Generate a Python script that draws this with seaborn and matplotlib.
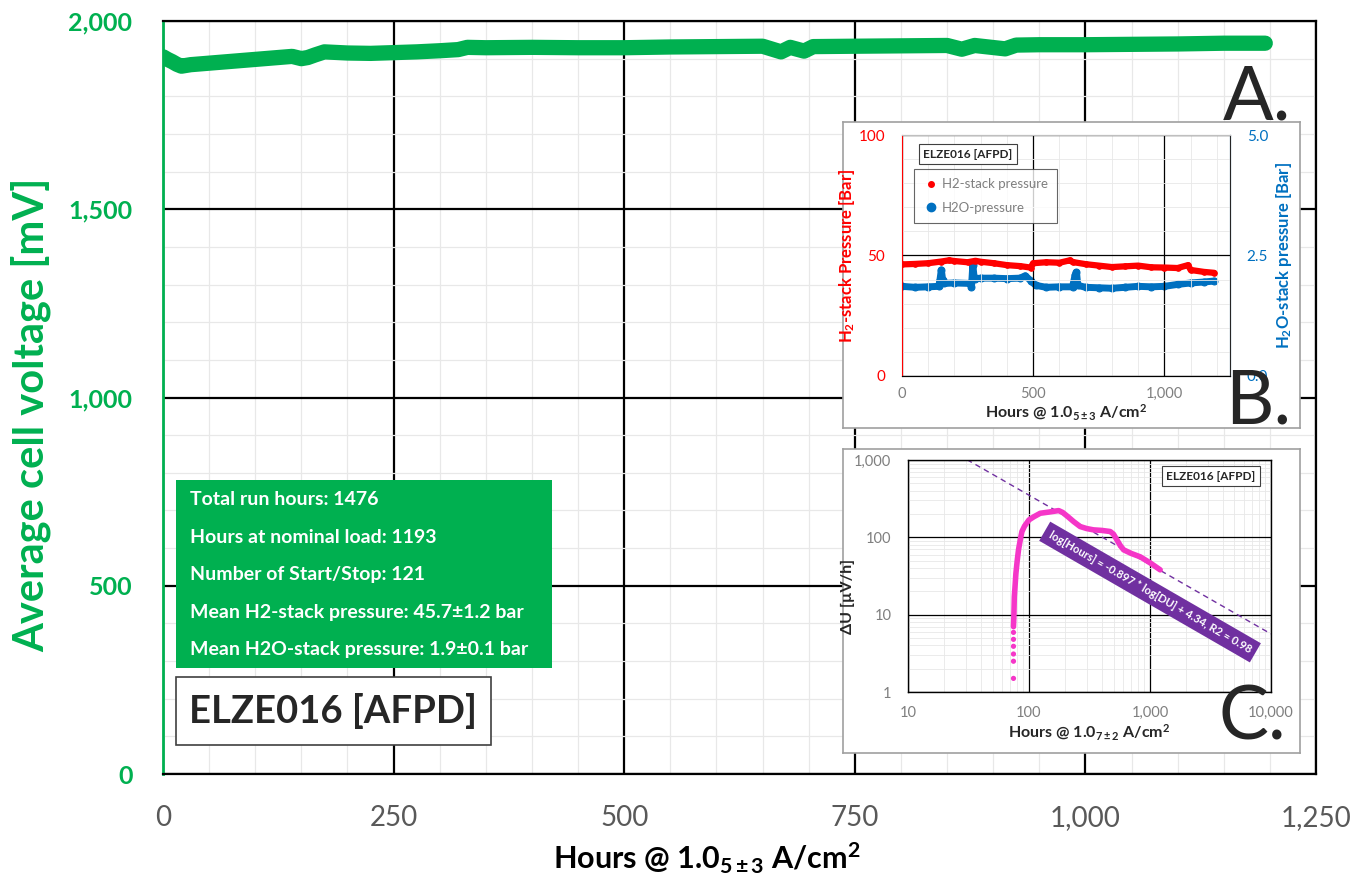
import matplotlib
matplotlib.use("Agg")
import numpy as np
import matplotlib.pyplot as plt
import seaborn as sns
from matplotlib.ticker import FuncFormatter, MultipleLocator, LogLocator, NullFormatter, FixedLocator
from matplotlib.patches import Rectangle
from matplotlib.lines import Line2D

# ---- main panel A: average cell voltage ----
hours_v = [0, 5, 10, 15, 20, 25, 30, 40, 50, 75, 100, 125, 140, 150, 157, 165, 175,
           200, 225, 250, 275, 300, 320, 330, 350, 400, 450, 500, 550, 600, 650, 670,
           680, 695, 705, 750, 800, 850, 866, 880, 913, 925, 950, 1000, 1050, 1100,
           1150, 1195]
voltage_mv = [1905, 1898, 1892, 1885, 1880, 1882, 1884, 1886, 1888, 1893, 1898, 1903,
              1906, 1900, 1903, 1910, 1918, 1915, 1914, 1916, 1918, 1921, 1924, 1930,
              1929, 1930, 1929, 1929, 1931, 1932, 1933, 1918, 1930, 1920, 1932, 1933,
              1934, 1935, 1925, 1935, 1926, 1936, 1937, 1937, 1938, 1939, 1941, 1941]
stats_lines = ["Total run hours: 1476",
               "Hours at nominal load: 1193",
               "Number of Start/Stop: 121",
               "Mean H2-stack pressure: 45.7\u00b11.2 bar",
               "Mean H2O-stack pressure: 1.9\u00b10.1 bar"]
stack_name = "ELZE016 [AFPD]"

# ---- inset B: pressures ----
h2_hours = [0, 50, 100, 150, 180, 200, 250, 280, 300, 350, 400, 450, 490, 500, 550,
            600, 640, 650, 700, 750, 800, 850, 900, 950, 1000, 1050, 1090, 1100, 1150, 1190]
h2_bar = [46.3, 46.5, 46.8, 47.5, 48.0, 47.7, 47.2, 47.8, 47.4, 46.8, 46.0, 45.6, 45.0,
          46.8, 47.2, 47.0, 48.0, 47.3, 46.4, 45.8, 45.2, 45.5, 45.8, 45.1, 45.0, 44.8,
          46.0, 44.0, 43.2, 42.8]
h2o_hours = [0, 50, 100, 140, 145, 150, 155, 160, 200, 260, 265, 270, 275, 280, 300, 350,
             400, 450, 470, 490, 510, 550, 600, 650, 660, 665, 670, 700, 750, 800, 850,
             900, 950, 1000, 1050, 1100, 1150, 1190]
h2o_bar = [1.86, 1.84, 1.85, 1.86, 2.0, 2.2, 2.0, 1.92, 1.93, 1.92, 1.85, 2.3, 2.05, 2.02,
           2.03, 2.03, 2.02, 2.03, 2.08, 1.98, 1.88, 1.84, 1.85, 1.85, 2.1, 2.15, 1.88,
           1.84, 1.83, 1.82, 1.84, 1.86, 1.85, 1.86, 1.90, 1.93, 1.95, 1.97]

# ---- inset C: degradation rate ----
du_start_hours = [74.5, 74.5, 74.5, 74.5, 74.5, 74.5]
du_start = [1.5, 2.5, 3.1, 3.9, 4.8, 5.9]
du_hours = [74.5, 75, 75.7, 77, 78, 80, 82, 85, 87.5, 92, 100, 110, 124, 145, 176, 190,
            210, 234, 265, 300, 342, 400, 470, 500, 533, 570, 606, 700, 832, 1000, 1216]
du_uvh = [7.0, 9, 17, 25, 34, 50, 69, 95, 119, 140, 168, 185, 205, 212, 222, 210, 185,
          160, 138, 130, 125, 123, 119, 110, 93, 78, 69, 62, 56, 47, 38]
fit_slope = -0.897
fit_intercept = 4.34
fit_r2 = 0.98
fit_hours = [10, 10000]

GREEN = "#00B050"
RED = "#FF0000"
BLUE = "#0070C0"
PINK = "#F536C8"
PURPLE = "#7030A0"
GRAY = "#595959"
MINOR = "#e8e8e8"

sns.set_style("white")
plt.rcParams['font.family'] = ['Lato', 'DejaVu Sans']
plt.rcParams['mathtext.fontset'] = 'custom'
plt.rcParams['mathtext.rm'] = 'Lato'
plt.rcParams['mathtext.bf'] = 'Lato:bold'
plt.rcParams['mathtext.it'] = 'Lato:italic'

comma = FuncFormatter(lambda v, p: f"{v:,.0f}")

fig = plt.figure(figsize=(13.67, 8.83), dpi=100)

# ==== Panel A ====
ax = fig.add_axes([0.11924, 0.12344, 0.84345, 0.85278])
sns.lineplot(x=hours_v, y=voltage_mv, ax=ax, color=GREEN, lw=11,
             solid_capstyle='round', solid_joinstyle='round', zorder=3)
ax.set_xlim(0, 1250)
ax.set_ylim(0, 2000)
ax.xaxis.set_major_locator(MultipleLocator(250))
ax.xaxis.set_minor_locator(MultipleLocator(50))
ax.yaxis.set_major_locator(MultipleLocator(500))
ax.yaxis.set_minor_locator(MultipleLocator(100))
ax.xaxis.set_major_formatter(comma)
ax.yaxis.set_major_formatter(comma)
ax.grid(which='major', color='black', lw=1.6, zorder=1)
ax.grid(which='minor', color=MINOR, lw=0.9, zorder=0)
ax.set_axisbelow(True)
ax.tick_params(which='both', length=0)
ax.tick_params(axis='x', labelsize=20, labelcolor=GRAY, pad=22)
ax.tick_params(axis='y', labelsize=18, labelcolor=GREEN, pad=22)
for lab in ax.get_yticklabels():
    lab.set_fontweight('bold')
for side in ['top', 'right', 'bottom']:
    ax.spines[side].set_color('black')
    ax.spines[side].set_linewidth(1.6)
ax.spines['left'].set_color(GREEN)
ax.spines['left'].set_linewidth(2)
ax.set_xlabel(r"Hours @ 1.0$_{\mathbf{5\pm3}}$ A/cm$^{\mathbf{2}}$",
              fontsize=22, fontweight='bold', color='black')
ax.xaxis.set_label_coords((707 - 163) / 1153, -0.088)
fig.text(31 / 1367, 1 - 415 / 883, "Average cell voltage [mV]", rotation=90,
         ha='center', va='center', fontsize=30, fontweight='bold', color=GREEN)

# stats box
ax.add_patch(Rectangle((0.0113, 0.1408), 0.3261, 0.2497, transform=ax.transAxes,
                       facecolor=GREEN, edgecolor='none', zorder=5))
for yy, line in zip([0.3639, 0.3147, 0.2643, 0.2151, 0.1647], stats_lines):
    ax.text(0.0234, yy, line, transform=ax.transAxes, color='white', fontsize=14,
            fontweight='bold', ha='left', va='center', zorder=6)
ax.add_patch(Rectangle((0.0113, 0.0385), 0.2732, 0.0903, transform=ax.transAxes,
                       facecolor='white', edgecolor='#404040', lw=1.2, zorder=5))
ax.text(0.1477, 0.0837, stack_name, transform=ax.transAxes, fontsize=27.5,
        fontweight='bold', ha='center', va='center', zorder=6)

# frames behind insets
for rect in ([0.6167, 0.5153, 0.3343, 0.3466], [0.6167, 0.1472, 0.3343, 0.3443]):
    fr = fig.add_axes(rect)
    fr.set_xticks([])
    fr.set_yticks([])
    fr.set_facecolor('white')
    for s in fr.spines.values():
        s.set_color('#a0a0a0')
        s.set_linewidth(1.2)

# ==== Panel B ====
axb = fig.add_axes([0.6598, 0.5742, 0.2400, 0.2729])
axb2 = axb.twinx()
sns.lineplot(x=h2_hours, y=h2_bar, ax=axb, color=RED, lw=4.5, marker='o', ms=4,
             mec=RED, zorder=3)
sns.lineplot(x=h2o_hours, y=h2o_bar, ax=axb2, color=BLUE, lw=5, marker='o', ms=5,
             mec=BLUE, zorder=3)
axb.set_xlim(0, 1250)
axb.set_ylim(0, 100)
axb2.set_ylim(0, 5)
axb.xaxis.set_major_locator(FixedLocator([0, 500, 1000]))
axb.xaxis.set_minor_locator(MultipleLocator(100))
axb.yaxis.set_major_locator(FixedLocator([0, 50, 100]))
axb.yaxis.set_minor_locator(MultipleLocator(10))
axb2.yaxis.set_major_locator(FixedLocator([0, 2.5, 5]))
axb.xaxis.set_major_formatter(comma)
axb2.yaxis.set_major_formatter(FuncFormatter(lambda v, p: f"{v:.1f}"))
axb.grid(which='major', color='black', lw=0.9)
axb.grid(which='minor', color=MINOR, lw=0.6)
axb.set_axisbelow(True)
axb2.grid(False)
axb.tick_params(which='both', length=0)
axb2.tick_params(which='both', length=0)
axb.tick_params(axis='x', labelsize=10.5, labelcolor='#7f7f7f', pad=8)
axb.tick_params(axis='y', labelsize=11, labelcolor=RED, pad=12)
axb2.tick_params(axis='y', labelsize=11, labelcolor=BLUE, pad=12)
axb.spines['left'].set_color(RED)
axb.spines['bottom'].set_color('black')
axb.spines['top'].set_color('#bfbfbf')
axb2.spines['right'].set_color(BLUE)
axb2.spines['left'].set_visible(False)
axb2.spines['top'].set_color('#bfbfbf')
axb.set_xlabel(r"Hours @ 1.0$_{\mathbf{5\pm3}}$ A/cm$^{\mathbf{2}}$", fontsize=11.5,
               fontweight='bold', labelpad=1)
axb.set_ylabel(r"H$_{\mathbf{2}}$-stack Pressure [Bar]", fontsize=12, fontweight='bold',
               color=RED, labelpad=1)
axb2.set_ylabel(r"H$_{\mathbf{2}}$O-stack pressure [Bar]", fontsize=12, fontweight='bold',
                color=BLUE, labelpad=4)
axb.text(0.201, 0.921, stack_name, transform=axb.transAxes, fontsize=8.5,
         fontweight='bold', ha='center', va='center', zorder=6,
         bbox=dict(boxstyle='square,pad=0.35', fc='white', ec='#404040', lw=0.8))
handles = [Line2D([], [], color=RED, marker='o', ls='none', ms=4),
           Line2D([], [], color=BLUE, marker='o', ls='none', ms=6)]
leg = axb.legend(handles, ["H2-stack pressure", "H2O-pressure"], loc='upper left',
                 bbox_to_anchor=(0.0366, 0.859), borderaxespad=0, fontsize=9.5,
                 frameon=True, fancybox=False, edgecolor='#404040', labelcolor='#7f7f7f',
                 handletextpad=0.2, borderpad=0.7, labelspacing=0.9, handlelength=1.2)
leg.get_frame().set_linewidth(0.8)
leg.set_zorder(7)
axb2.set_zorder(axb.get_zorder() + 0.1)
axb.set_zorder(axb2.get_zorder() + 0.1)
axb.patch.set_visible(False)
axb2.patch.set_visible(False)

# ==== Panel C ====
axc = fig.add_axes([0.6642, 0.2163, 0.2655, 0.2627])
axc.set_xscale('log')
axc.set_yscale('log')
fit_du = [10 ** (fit_intercept + fit_slope * np.log10(h)) for h in fit_hours]
axc.plot(fit_hours, fit_du, color=PURPLE, lw=1, ls=(0, (4, 3)), zorder=2)
sns.scatterplot(x=du_start_hours, y=du_start, ax=axc, color=PINK, s=14,
                edgecolor='none', zorder=3)
sns.lineplot(x=du_hours, y=du_uvh, ax=axc, color=PINK, lw=4, sort=False,
             estimator=None, zorder=3)
axc.set_xlim(10, 10000)
axc.set_ylim(1, 1000)
axc.xaxis.set_major_locator(LogLocator(base=10))
axc.yaxis.set_major_locator(LogLocator(base=10))
axc.xaxis.set_minor_locator(LogLocator(base=10, subs=np.arange(2, 10)))
axc.yaxis.set_minor_locator(LogLocator(base=10, subs=np.arange(2, 10)))
axc.xaxis.set_minor_formatter(NullFormatter())
axc.yaxis.set_minor_formatter(NullFormatter())
axc.xaxis.set_major_formatter(comma)
axc.yaxis.set_major_formatter(comma)
axc.grid(which='major', color='black', lw=0.9)
axc.grid(which='minor', color=MINOR, lw=0.6)
axc.set_axisbelow(True)
axc.tick_params(which='both', length=0)
axc.tick_params(axis='x', labelsize=10.5, labelcolor='#7f7f7f', pad=10)
axc.tick_params(axis='y', labelsize=10.5, labelcolor='#7f7f7f', pad=12)
for s in axc.spines.values():
    s.set_color('black')
    s.set_linewidth(1.0)
axc.set_xlabel(r"Hours @ 1.0$_{\mathbf{7\pm2}}$ A/cm$^{\mathbf{2}}$", fontsize=11.5,
               fontweight='bold', labelpad=2)
axc.set_ylabel("\u0394U [\u00b5V/h]", fontsize=11.5, fontweight='bold')
axc.yaxis.set_label_coords(-0.145, 0.41)
axc.text(0.835, 0.931, stack_name, transform=axc.transAxes, fontsize=8.5,
         fontweight='bold', ha='center', va='center', zorder=6,
         bbox=dict(boxstyle='square,pad=0.35', fc='white', ec='#404040', lw=0.8))
axc.text(0.667, 0.431,
         f"log[Hours] = {fit_slope} * log[DU] + {fit_intercept}, R2 = {fit_r2}",
         transform=axc.transAxes, fontsize=8, fontweight='bold', color='white',
         rotation=-30, ha='center', va='center', zorder=6,
         bbox=dict(boxstyle='square,pad=0.5', fc=PURPLE, ec='none'))

# panel letters
fig.text(1291 / 1367, 1 - 119 / 883, "A.", fontsize=54, ha='right', va='baseline')
fig.text(1291 / 1367, 1 - 424 / 883, "B.", fontsize=54, ha='right', va='baseline')
fig.text(1286 / 1367, 1 - 740 / 883, "C.", fontsize=54, ha='right', va='baseline')

fig.savefig("out.png", dpi=100)
